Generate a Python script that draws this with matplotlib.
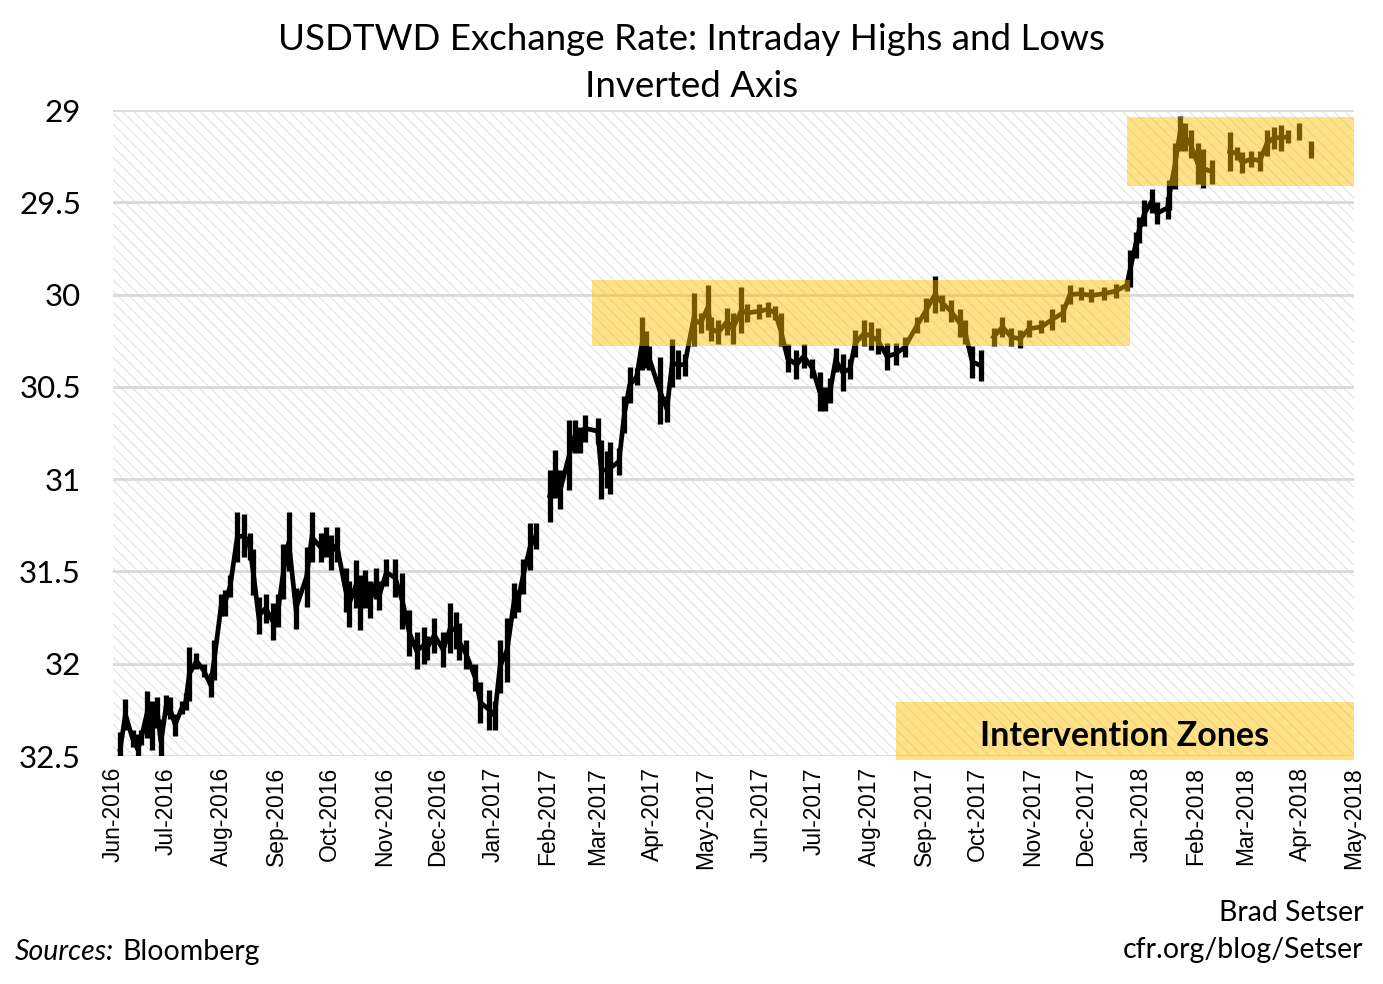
import numpy as np
import pandas as pd
import matplotlib
matplotlib.use("Agg")
import matplotlib.pyplot as plt
import matplotlib.dates as mdates
from matplotlib.patches import Rectangle

# Intraday range readings (USD/TWD), low = fewer TWD per USD, high = more
dates = [
    "2016-06-05", "2016-06-08", "2016-06-12", "2016-06-15", "2016-06-17", "2016-06-20",
    "2016-06-23", "2016-06-26", "2016-06-28", "2016-07-01", "2016-07-03", "2016-07-06",
    "2016-07-10", "2016-07-12", "2016-07-14", "2016-07-18", "2016-07-22", "2016-07-26",
    "2016-07-28", "2016-08-01", "2016-08-03", "2016-08-06", "2016-08-10", "2016-08-14",
    "2016-08-17", "2016-08-19", "2016-08-22", "2016-08-26", "2016-08-30", "2016-09-02",
    "2016-09-05", "2016-09-08", "2016-09-12", "2016-09-18", "2016-09-21", "2016-09-26",
    "2016-09-29", "2016-10-02", "2016-10-05", "2016-10-10", "2016-10-12", "2016-10-16",
    "2016-10-18", "2016-10-21", "2016-10-24", "2016-10-27", "2016-10-29", "2016-11-02",
    "2016-11-07", "2016-11-11", "2016-11-15", "2016-11-19", "2016-11-23", "2016-11-25",
    "2016-11-29", "2016-12-04", "2016-12-08", "2016-12-11", "2016-12-13", "2016-12-17",
    "2016-12-22", "2016-12-25", "2016-12-30", "2017-01-02", "2017-01-05", "2017-01-09",
    "2017-01-13", "2017-01-15", "2017-01-18", "2017-01-22", "2017-01-25", "2017-01-29",
    "2017-02-02", "2017-02-05", "2017-02-08", "2017-02-13", "2017-02-16", "2017-02-19",
    "2017-02-22", "2017-03-01", "2017-03-03", "2017-03-06", "2017-03-08", "2017-03-13",
    "2017-03-16", "2017-03-19", "2017-03-23", "2017-03-26", "2017-03-28", "2017-03-30",
    "2017-04-05", "2017-04-09", "2017-04-12", "2017-04-15", "2017-04-19", "2017-04-24",
    "2017-04-28", "2017-05-02", "2017-05-04", "2017-05-08", "2017-05-13", "2017-05-16",
    "2017-05-21", "2017-05-24", "2017-05-31", "2017-06-05", "2017-06-09", "2017-06-12",
    "2017-06-16", "2017-06-21", "2017-06-25", "2017-06-30", "2017-07-04", "2017-07-07",
    "2017-07-10", "2017-07-13", "2017-07-17", "2017-07-21", "2017-07-24", "2017-07-29",
    "2017-08-02", "2017-08-06", "2017-08-11", "2017-08-16", "2017-08-21", "2017-08-28",
    "2017-09-02", "2017-09-07", "2017-09-11", "2017-09-16", "2017-09-21", "2017-09-24",
    "2017-09-28", "2017-10-03", "2017-10-06", "2017-10-10", "2017-10-15", "2017-10-20",
    "2017-10-25", "2017-10-30", "2017-11-06", "2017-11-12", "2017-11-18", "2017-11-22",
    "2017-11-28", "2017-12-04", "2017-12-11", "2017-12-18", "2017-12-24", "2017-12-26",
    "2017-12-29", "2017-12-31", "2018-01-03", "2018-01-07", "2018-01-10", "2018-01-16",
    "2018-01-17", "2018-01-20", "2018-01-23", "2018-01-26", "2018-01-29", "2018-02-02",
    "2018-02-05", "2018-02-10", "2018-02-15", "2018-02-20", "2018-02-24", "2018-02-27",
    "2018-03-04", "2018-03-09", "2018-03-13", "2018-03-17", "2018-03-21", "2018-03-25",
    "2018-03-28", "2018-03-31", "2018-04-04", "2018-04-07",
]
lows = [
    32.37, 32.19, 32.36, 32.38, 32.36, 32.15, 32.20, 32.18, 32.30, 32.17, 32.18, 32.27,
    32.20, 32.16, 31.91, 31.94, 32.00, 32.05, 31.87, 31.62, 31.60, 31.52, 31.18, 31.19,
    31.29, 31.38, 31.64, 31.62, 31.67, 31.62, 31.35, 31.18, 31.59, 31.37, 31.18, 31.29,
    31.26, 31.30, 31.26, 31.48, 31.55, 31.44, 31.52, 31.49, 31.55, 31.48, 31.55, 31.43,
    31.43, 31.51, 31.71, 31.83, 31.80, 31.85, 31.75, 31.83, 31.67, 31.72, 31.78, 31.87,
    32.00, 32.10, 32.14, 32.20, 31.87, 31.75, 31.56, 31.60, 31.43, 31.24, 31.24, np.nan,
    30.95, 30.84, 30.95, 30.68, 30.68, 30.72, 30.65, 30.67, 30.79, 30.85, 30.80, 30.83,
    30.55, 30.39, 30.40, 30.12, 30.20, 30.28, 30.34, 30.55, 30.24, 30.30, 30.32, 29.99,
    30.10, 29.95, 30.12, 30.14, 30.07, 30.10, 29.96, 30.05, 30.05, 30.04, 30.06, 30.10,
    30.27, 30.30, 30.27, 30.35, 30.42, 30.50, 30.45, 30.29, 30.32, 30.35, 30.19, 30.14,
    30.15, 30.18, 30.26, 30.26, 30.23, 30.12, 30.02, 29.90, 30.00, 30.03, 30.08, 30.14,
    30.28, 30.30, np.nan, 30.18, 30.12, 30.18, 30.19, 30.14, 30.14, 30.08, 30.05, 29.95,
    29.96, 29.97, 29.96, 29.94, 29.92, 29.76, 29.66, 29.58, 29.49, 29.43, 29.50, 29.47,
    29.38, 29.18, 29.03, 29.07, 29.11, 29.18, 29.21, 29.27, np.nan, 29.12, 29.20, 29.23,
    29.22, 29.22, 29.11, 29.09, 29.08, 29.11, np.nan, 29.07, np.nan, 29.17,
]
highs = [
    32.56, 32.36, 32.45, 32.55, 32.44, 32.40, 32.47, 32.35, 32.55, 32.28, 32.30, 32.39,
    32.27, 32.25, 32.20, 32.03, 32.07, 32.18, 32.09, 31.74, 31.74, 31.64, 31.45, 31.42,
    31.44, 31.63, 31.84, 31.78, 31.87, 31.80, 31.65, 31.50, 31.81, 31.69, 31.45, 31.45,
    31.42, 31.49, 31.45, 31.72, 31.80, 31.70, 31.82, 31.70, 31.75, 31.65, 31.71, 31.58,
    31.64, 31.81, 31.96, 32.03, 32.00, 31.98, 31.94, 32.02, 31.94, 31.92, 31.98, 32.03,
    32.15, 32.32, 32.36, 32.36, 32.16, 32.10, 31.75, 31.72, 31.62, 31.49, 31.38, np.nan,
    31.23, 31.10, 31.16, 31.06, 30.86, 30.86, 30.80, 30.81, 31.11, 31.05, 31.08, 30.98,
    30.75, 30.59, 30.49, 30.41, 30.40, 30.41, 30.70, 30.69, 30.50, 30.46, 30.44, 30.28,
    30.21, 30.19, 30.25, 30.27, 30.22, 30.27, 30.21, 30.15, 30.13, 30.12, 30.14, 30.28,
    30.42, 30.46, 30.40, 30.45, 30.63, 30.63, 30.59, 30.42, 30.52, 30.46, 30.34, 30.28,
    30.30, 30.32, 30.41, 30.38, 30.34, 30.21, 30.15, 30.10, 30.09, 30.15, 30.23, 30.27,
    30.45, 30.47, np.nan, 30.28, 30.23, 30.28, 30.29, 30.23, 30.21, 30.19, 30.15, 30.05,
    30.03, 30.04, 30.03, 30.02, 29.98, 29.96, 29.80, 29.72, 29.63, 29.56, 29.62, 29.59,
    29.54, 29.43, 29.22, 29.22, 29.26, 29.40, 29.42, 29.40, np.nan, 29.33, 29.27, 29.34,
    29.31, 29.33, 29.25, 29.21, 29.22, 29.18, np.nan, 29.16, np.nan, 29.26,
]

# Intervention zones (shaded boxes)
zone_starts = ["2017-02-26", "2017-12-24"]
zone_ends = ["2017-12-26", "2018-05-01"]
zone_lows = [29.92, 29.04]
zone_highs = [30.28, 29.41]

month_ticks = pd.date_range("2016-06-01", "2018-05-01", freq="MS")

dt = pd.to_datetime(dates)
lo = np.array(lows)
hi = np.array(highs)

plt.rcParams["hatch.linewidth"] = 0.8

fig = plt.figure(figsize=(13.83, 9.84), dpi=100)
ax = fig.add_axes([0.0817, 0.2317, 0.8973, 0.6565])

# hatched background
bg = Rectangle((0, 0), 1, 1, transform=ax.transAxes, facecolor="white",
               edgecolor="#e2e2e2", hatch="\\\\\\", linewidth=0, zorder=0)
ax.add_patch(bg)

ax.set_axisbelow(True)
ax.yaxis.grid(True, color="#d9d9d9", linewidth=2)

# high-low bars
ax.vlines(dt, lo, hi, color="black", linewidth=3.8, zorder=2)
ax.plot(dt, (lo + hi) / 2, color="black", linewidth=3.4, zorder=2,
        solid_joinstyle="miter")

yellow = "#ffc000"
for s, e, a, b in zip(zone_starts, zone_ends, zone_lows, zone_highs):
    x0 = mdates.date2num(pd.Timestamp(s))
    x1 = mdates.date2num(pd.Timestamp(e))
    ax.add_patch(Rectangle((x0, a), x1 - x0, b - a, facecolor=yellow,
                           edgecolor="none", alpha=0.47, zorder=3))

# legend-like label box
lx0 = mdates.date2num(pd.Timestamp("2017-08-16"))
lx1 = mdates.date2num(pd.Timestamp("2018-05-01"))
ax.add_patch(Rectangle((lx0, 32.21), lx1 - lx0, 0.31, facecolor=yellow,
                       edgecolor="none", alpha=0.47, zorder=3, clip_on=False))
ax.text((lx0 + lx1) / 2, 32.39, "Intervention Zones", ha="center", va="center",
        fontsize=24.5, fontweight="bold", family="Lato", zorder=4)

ax.set_ylim(32.5, 29)
ax.set_yticks([29, 29.5, 30, 30.5, 31, 31.5, 32, 32.5])
ax.set_yticklabels(["29", "29.5", "30", "30.5", "31", "31.5", "32", "32.5"])
ax.set_xlim(month_ticks[0], month_ticks[-1])
ax.set_xticks(month_ticks)
ax.set_xticklabels([d.strftime("%b-%Y") for d in month_ticks], rotation=90,
                   fontsize=16.5, family="Liberation Sans")
ax.tick_params(axis="x", length=0, pad=8)
ax.tick_params(axis="y", length=0, pad=23, labelsize=22.5)
for lab in ax.get_yticklabels():
    lab.set_family("Lato")
for sp in ax.spines.values():
    sp.set_visible(False)

fig.text(0.5, 0.960, "USDTWD Exchange Rate: Intraday Highs and Lows", ha="center",
         va="center", fontsize=26.5, family="Lato")
fig.text(0.5, 0.912, "Inverted Axis", ha="center", va="center", fontsize=26.5,
         family="Lato")

fig.text(0.986, 0.072, "Brad Setser", ha="right", va="center", fontsize=20.5,
         family="Lato")
fig.text(0.986, 0.035, "cfr.org/blog/Setser", ha="right", va="center", fontsize=20.5,
         family="Lato")
src = fig.text(0.011, 0.033, "Sources:", ha="left", va="center", fontsize=20.5,
               family="Lato", style="italic")
fig.canvas.draw()
bb = src.get_window_extent().transformed(fig.transFigure.inverted())
fig.text(bb.x1 + 0.006, 0.033, "Bloomberg", ha="left", va="center", fontsize=20.5,
         family="Lato")

fig.savefig("out.png", dpi=100)
